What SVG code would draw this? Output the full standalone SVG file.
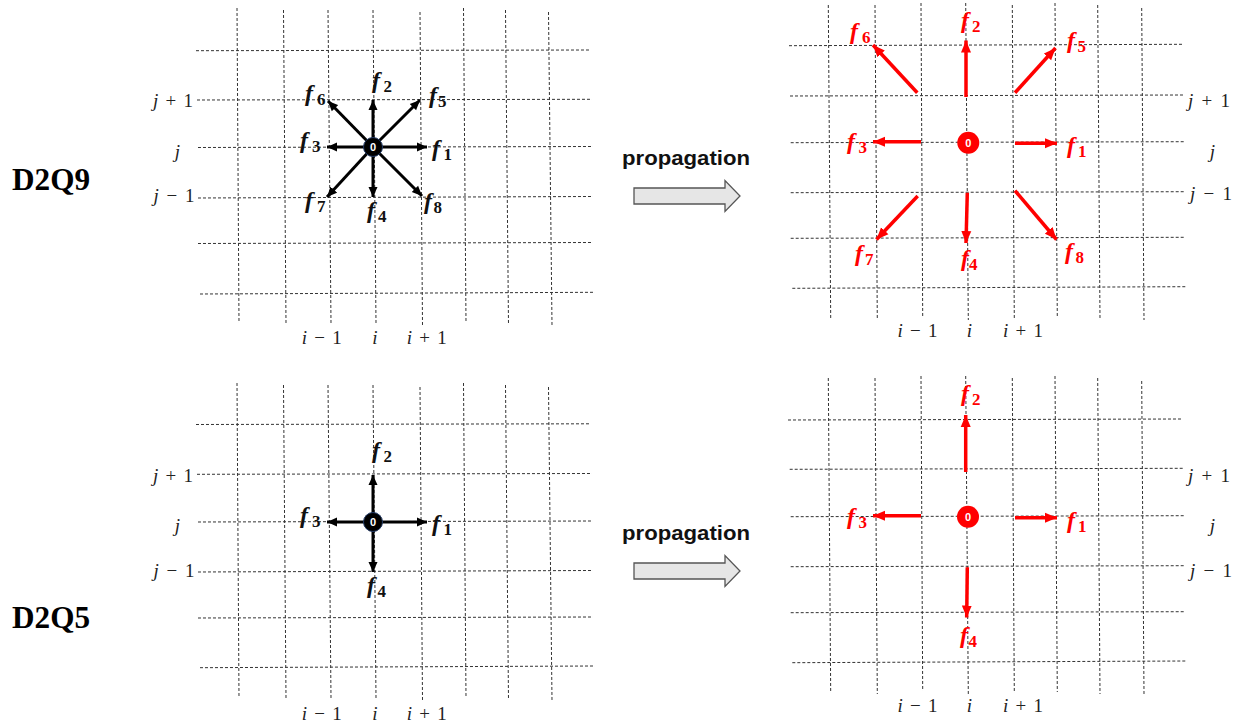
<svg xmlns="http://www.w3.org/2000/svg" width="1243" height="726" viewBox="0 0 1243 726">
<style>
.g line{stroke:#333;stroke-width:1;stroke-dasharray:3 2;fill:none}
.ax{font-family:"Liberation Serif",serif;font-size:19px;fill:#222;text-anchor:middle}
.ax .v{font-style:italic}
.fb{font-family:"Liberation Serif",serif;font-weight:bold;fill:#111}
.fr{font-family:"Liberation Serif",serif;font-weight:bold;fill:#f00}
.f{font-style:italic;font-size:24px}
.s{font-size:17px}
.ab{stroke:#000;stroke-width:3;fill:none}
.ar{stroke:#f00;stroke-width:3.5;fill:none}
.title{font-family:"Liberation Serif",serif;font-weight:bold;font-size:31px;fill:#000}
.prop{font-family:"Liberation Sans",sans-serif;font-weight:bold;font-size:20px;fill:#111}
.parr{fill:#e6e6e6;stroke:#555;stroke-width:1.3}
.zero{font-family:"Liberation Sans",sans-serif;font-weight:bold;font-size:11px;fill:#fff;text-anchor:middle}
</style>
<defs>
<marker id="hb" markerUnits="userSpaceOnUse" markerWidth="11" markerHeight="10" refX="10" refY="5" orient="auto"><path d="M0,0.5 L10,5 L0,9.5 z" fill="#000"/></marker>
<marker id="hr" markerUnits="userSpaceOnUse" markerWidth="13" markerHeight="11" refX="12" refY="5.5" orient="auto"><path d="M0,0.5 L12,5.5 L0,10.5 z" fill="#f00"/></marker>
</defs>
<rect width="1243" height="726" fill="#fff"/>

<!-- Grids -->
<g id="grid-tl" class="g">
<line x1="237" y1="8" x2="239" y2="323"/><line x1="283.5" y1="10" x2="286" y2="323"/><line x1="328" y1="10" x2="331" y2="323"/><line x1="373" y1="10" x2="376" y2="323"/><line x1="420" y1="12" x2="422.5" y2="325"/><line x1="463.5" y1="8" x2="466" y2="322"/><line x1="505.5" y1="10" x2="508.5" y2="325"/><line x1="548.5" y1="12" x2="552" y2="325"/>
<line x1="196" y1="50.7" x2="590" y2="50"/><line x1="197" y1="100" x2="592" y2="99.3"/><line x1="198" y1="147.5" x2="593" y2="146.5"/><line x1="198" y1="198" x2="593" y2="196.5"/><line x1="198" y1="243.5" x2="593" y2="242.5"/><line x1="200" y1="294" x2="595" y2="292.3"/>
</g>
<g id="grid-bl" class="g">
<line x1="237" y1="383" x2="239" y2="698"/><line x1="283.5" y1="385" x2="286" y2="698"/><line x1="328" y1="385" x2="331" y2="698"/><line x1="373" y1="385" x2="376" y2="698"/><line x1="420" y1="387" x2="422.5" y2="700"/><line x1="463.5" y1="383" x2="466" y2="697"/><line x1="505.5" y1="385" x2="508.5" y2="700"/><line x1="548.5" y1="387" x2="552" y2="700"/>
<line x1="196" y1="424.5" x2="590" y2="423.8"/><line x1="197" y1="474.3" x2="592" y2="473.5"/><line x1="198" y1="522" x2="593" y2="521"/><line x1="198" y1="572" x2="593" y2="570.5"/><line x1="198" y1="618" x2="593" y2="617"/><line x1="200" y1="667.7" x2="595" y2="666"/>
</g>
<g id="grid-tr" class="g">
<line x1="828.3" y1="5" x2="830.7" y2="318"/><line x1="875" y1="5" x2="877.3" y2="320"/><line x1="921" y1="3" x2="922.7" y2="316"/><line x1="965.7" y1="3" x2="968.3" y2="320"/><line x1="1012.3" y1="5" x2="1014.3" y2="320"/><line x1="1055" y1="3" x2="1057.3" y2="318"/><line x1="1097.7" y1="5" x2="1100" y2="320"/><line x1="1141.7" y1="8" x2="1144" y2="320"/>
<line x1="789" y1="45.7" x2="1182" y2="44.3"/><line x1="790" y1="96" x2="1183" y2="95"/><line x1="790.7" y1="142.7" x2="1185" y2="141.7"/><line x1="790.7" y1="192.7" x2="1185" y2="191.7"/><line x1="790.7" y1="238.3" x2="1185" y2="237.3"/><line x1="792.3" y1="288.3" x2="1186.7" y2="286.7"/>
</g>
<g id="grid-br" class="g">
<line x1="828.3" y1="378" x2="830.7" y2="693"/><line x1="875" y1="378" x2="877.3" y2="694"/><line x1="921" y1="376" x2="922.7" y2="691"/><line x1="965.7" y1="376" x2="968.3" y2="694"/><line x1="1012.3" y1="378" x2="1014.3" y2="693"/><line x1="1055" y1="376" x2="1057.3" y2="692"/><line x1="1097.7" y1="378" x2="1100" y2="694"/><line x1="1141.7" y1="381" x2="1144" y2="694"/>
<line x1="788" y1="420" x2="1182" y2="419"/><line x1="789.7" y1="469.3" x2="1183" y2="468.3"/><line x1="790.7" y1="516.7" x2="1185" y2="515.7"/><line x1="790.7" y1="566.7" x2="1185" y2="565.7"/><line x1="790.7" y1="612.7" x2="1185" y2="611.7"/><line x1="792.3" y1="662.7" x2="1186.7" y2="661"/>
</g>

<!-- Axis labels -->
<g id="axes-tl" class="ax">
<text x="173" y="106.7" textLength="40" lengthAdjust="spacing"><tspan class="v">j</tspan> + 1</text>
<text x="177.5" y="158" class="v">j</text>
<text x="174" y="201.7" textLength="41" lengthAdjust="spacing"><tspan class="v">j</tspan> − 1</text>
<text x="321.7" y="344" textLength="40" lengthAdjust="spacing"><tspan class="v">i</tspan> − 1</text>
<text x="375" y="344" class="v">i</text>
<text x="426.7" y="344" textLength="40" lengthAdjust="spacing"><tspan class="v">i</tspan> + 1</text>
</g>
<g id="axes-bl" class="ax">
<text x="173" y="481.7" textLength="40" lengthAdjust="spacing"><tspan class="v">j</tspan> + 1</text>
<text x="177.5" y="532" class="v">j</text>
<text x="174" y="576.7" textLength="41" lengthAdjust="spacing"><tspan class="v">j</tspan> − 1</text>
<text x="321.7" y="720" textLength="40" lengthAdjust="spacing"><tspan class="v">i</tspan> − 1</text>
<text x="375" y="720" class="v">i</text>
<text x="426.7" y="720" textLength="40" lengthAdjust="spacing"><tspan class="v">i</tspan> + 1</text>
</g>
<g id="axes-tr" class="ax">
<text x="1209" y="106.7" textLength="42" lengthAdjust="spacing"><tspan class="v">j</tspan> + 1</text>
<text x="1212.5" y="158" class="v">j</text>
<text x="1211" y="200" textLength="42" lengthAdjust="spacing"><tspan class="v">j</tspan> − 1</text>
<text x="917.5" y="336.7" textLength="40" lengthAdjust="spacing"><tspan class="v">i</tspan> − 1</text>
<text x="969.5" y="336.7" class="v">i</text>
<text x="1023" y="336.7" textLength="40" lengthAdjust="spacing"><tspan class="v">i</tspan> + 1</text>
</g>
<g id="axes-br" class="ax">
<text x="1209" y="481.7" textLength="42" lengthAdjust="spacing"><tspan class="v">j</tspan> + 1</text>
<text x="1212.5" y="532" class="v">j</text>
<text x="1211" y="576.7" textLength="42" lengthAdjust="spacing"><tspan class="v">j</tspan> − 1</text>
<text x="917.5" y="711.7" textLength="40" lengthAdjust="spacing"><tspan class="v">i</tspan> − 1</text>
<text x="969.5" y="711.7" class="v">i</text>
<text x="1023" y="711.7" textLength="40" lengthAdjust="spacing"><tspan class="v">i</tspan> + 1</text>
</g>

<!-- Connectors -->
<g id="connectors">
<g id="arrows-tl">
<line class="ab" x1="373" y1="147" x2="427" y2="147" marker-end="url(#hb)"/>
<line class="ab" x1="373" y1="147" x2="373" y2="100" marker-end="url(#hb)"/>
<line class="ab" x1="373" y1="147" x2="327" y2="147" marker-end="url(#hb)"/>
<line class="ab" x1="373" y1="147" x2="373" y2="197" marker-end="url(#hb)"/>
<line class="ab" x1="373" y1="147" x2="420" y2="100" marker-end="url(#hb)"/>
<line class="ab" x1="373" y1="147" x2="328" y2="101" marker-end="url(#hb)"/>
<line class="ab" x1="373" y1="147" x2="327" y2="197" marker-end="url(#hb)"/>
<line class="ab" x1="373" y1="147" x2="422" y2="196" marker-end="url(#hb)"/>
</g>
<g id="arrows-bl">
<line class="ab" x1="373" y1="522" x2="427" y2="522" marker-end="url(#hb)"/>
<line class="ab" x1="373" y1="522" x2="373" y2="475" marker-end="url(#hb)"/>
<line class="ab" x1="373" y1="522" x2="327" y2="522" marker-end="url(#hb)"/>
<line class="ab" x1="373" y1="522" x2="373" y2="572" marker-end="url(#hb)"/>
</g>
<g id="arrows-tr">
<line class="ar" x1="1015" y1="143.3" x2="1057" y2="143.3" marker-end="url(#hr)"/>
<line class="ar" x1="966" y1="97" x2="966" y2="40.5" marker-end="url(#hr)"/>
<line class="ar" x1="921" y1="141.7" x2="873" y2="141.7" marker-end="url(#hr)"/>
<line class="ar" x1="967.3" y1="192.7" x2="966" y2="243" marker-end="url(#hr)"/>
<line class="ar" x1="1015" y1="92.7" x2="1055.5" y2="48" marker-end="url(#hr)"/>
<line class="ar" x1="917.3" y1="92.7" x2="873" y2="45" marker-end="url(#hr)"/>
<line class="ar" x1="917.7" y1="196" x2="876.5" y2="239.5" marker-end="url(#hr)"/>
<line class="ar" x1="1015" y1="190.7" x2="1056.5" y2="239.5" marker-end="url(#hr)"/>
</g>
<g id="arrows-br">
<line class="ar" x1="1015" y1="517.7" x2="1057" y2="517.7" marker-end="url(#hr)"/>
<line class="ar" x1="965.7" y1="472" x2="965.7" y2="415" marker-end="url(#hr)"/>
<line class="ar" x1="921" y1="515.7" x2="873" y2="515.7" marker-end="url(#hr)"/>
<line class="ar" x1="967.3" y1="567.3" x2="966.7" y2="617.5" marker-end="url(#hr)"/>
</g>
</g>

<!-- Center nodes -->
<g id="node-tl"><circle cx="373" cy="147" r="9.5" fill="#000" stroke="#203864" stroke-width="1"/><text class="zero" x="373" y="151">0</text></g>
<g id="node-bl"><circle cx="373" cy="522" r="9.5" fill="#000" stroke="#203864" stroke-width="1"/><text class="zero" x="373" y="526">0</text></g>
<g id="node-tr"><circle cx="968.3" cy="142.7" r="11" fill="#f00"/><text class="zero" x="968.3" y="146.7">0</text></g>
<g id="node-br"><circle cx="968" cy="516.7" r="11" fill="#f00"/><text class="zero" x="968" y="520.7">0</text></g>

<!-- f labels -->
<g id="labels-tl" class="fb">
<text><tspan class="f" x="372" y="87.7">f</tspan><tspan class="s" x="383.5" y="91.7">2</tspan></text>
<text><tspan class="f" x="305" y="101">f</tspan><tspan class="s" x="317" y="105">6</tspan></text>
<text><tspan class="f" x="429" y="102.7">f</tspan><tspan class="s" x="438" y="106.7">5</tspan></text>
<text><tspan class="f" x="300" y="148">f</tspan><tspan class="s" x="312" y="152">3</tspan></text>
<text><tspan class="f" x="432" y="156">f</tspan><tspan class="s" x="443.5" y="160">1</tspan></text>
<text><tspan class="f" x="305" y="208">f</tspan><tspan class="s" x="317" y="212">7</tspan></text>
<text><tspan class="f" x="367" y="218">f</tspan><tspan class="s" x="378" y="222">4</tspan></text>
<text><tspan class="f" x="424" y="209">f</tspan><tspan class="s" x="433.5" y="213">8</tspan></text>
</g>
<g id="labels-bl" class="fb">
<text><tspan class="f" x="372" y="457.7">f</tspan><tspan class="s" x="383.5" y="461.7">2</tspan></text>
<text><tspan class="f" x="300" y="522.7">f</tspan><tspan class="s" x="312" y="526.7">3</tspan></text>
<text><tspan class="f" x="432" y="531">f</tspan><tspan class="s" x="443.5" y="535">1</tspan></text>
<text><tspan class="f" x="367" y="592.7">f</tspan><tspan class="s" x="377.5" y="596.7">4</tspan></text>
</g>
<g id="labels-tr" class="fr">
<text><tspan class="f" x="850" y="39">f</tspan><tspan class="s" x="862" y="43">6</tspan></text>
<text><tspan class="f" x="961" y="27.7">f</tspan><tspan class="s" x="972" y="31.7">2</tspan></text>
<text><tspan class="f" x="1067" y="47.7">f</tspan><tspan class="s" x="1077.5" y="51.7">5</tspan></text>
<text><tspan class="f" x="847" y="149">f</tspan><tspan class="s" x="858.5" y="153">3</tspan></text>
<text><tspan class="f" x="1067" y="152.7">f</tspan><tspan class="s" x="1078" y="156.7">1</tspan></text>
<text><tspan class="f" x="855" y="261">f</tspan><tspan class="s" x="865" y="265">7</tspan></text>
<text><tspan class="f" x="961" y="266">f</tspan><tspan class="s" x="969" y="270">4</tspan></text>
<text><tspan class="f" x="1065" y="259">f</tspan><tspan class="s" x="1075.5" y="263">8</tspan></text>
</g>
<g id="labels-br" class="fr">
<text><tspan class="f" x="961" y="401">f</tspan><tspan class="s" x="972" y="405">2</tspan></text>
<text><tspan class="f" x="847" y="524">f</tspan><tspan class="s" x="858.5" y="528">3</tspan></text>
<text><tspan class="f" x="1067" y="527.7">f</tspan><tspan class="s" x="1078" y="531.7">1</tspan></text>
<text><tspan class="f" x="960" y="642.7">f</tspan><tspan class="s" x="968.5" y="646.7">4</tspan></text>
</g>

<!-- Titles and propagation -->
<g id="title-d2q9"><text class="title" x="12" y="190" textLength="78" lengthAdjust="spacingAndGlyphs">D2Q9</text></g>
<g id="title-d2q5"><text class="title" x="12" y="628.3" textLength="78" lengthAdjust="spacingAndGlyphs">D2Q5</text></g>
<g id="prop-top">
<text class="prop" x="622" y="165" textLength="128" lengthAdjust="spacingAndGlyphs">propagation</text>
<path class="parr" d="M634,188 L725,188 L725,180.5 L740,196 L725,211.5 L725,204 L634,204 Z"/>
</g>
<g id="prop-bottom">
<text class="prop" x="622" y="540" textLength="128" lengthAdjust="spacingAndGlyphs">propagation</text>
<path class="parr" d="M634,563 L725,563 L725,555.5 L740,571 L725,586.5 L725,579 L634,579 Z"/>
</g>
</svg>
